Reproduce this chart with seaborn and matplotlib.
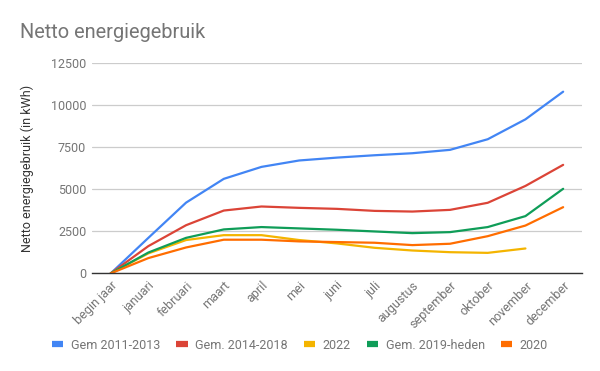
import matplotlib
matplotlib.use("Agg")
import matplotlib.pyplot as plt
import seaborn as sns
import pandas as pd
import numpy as np
from matplotlib.lines import Line2D

maanden = ["begin jaar", "januari", "februari", "maart", "april", "mei", "juni",
           "juli", "augustus", "september", "oktober", "november", "december"]
series_names = ["Gem 2011-2013", "Gem. 2014-2018", "2022", "Gem. 2019-heden", "2020"]
gem_2011_2013 = [0, 2110, 4200, 5610, 6320, 6700, 6870, 7010, 7130, 7330, 7960, 9140, 10780]
gem_2014_2018 = [0, 1620, 2860, 3730, 3970, 3890, 3830, 3710, 3670, 3770, 4190, 5190, 6440]
jaar_2022 = [0, 1190, 1980, 2270, 2270, 1980, 1780, 1520, 1360, 1260, 1220, 1480, np.nan]
gem_2019_heden = [0, 1240, 2110, 2610, 2750, 2670, 2590, 2490, 2390, 2450, 2750, 3400, 5020]
jaar_2020 = [0, 910, 1540, 2000, 2000, 1900, 1860, 1820, 1680, 1760, 2210, 2840, 3930]
colors = ["#4285F4", "#DB4437", "#F4B400", "#0F9D58", "#FF6D00"]

values = [gem_2011_2013, gem_2014_2018, jaar_2022, gem_2019_heden, jaar_2020]
rows = []
for name, vals in zip(series_names, values):
    for m, v in zip(maanden, vals):
        rows.append({"maand": m, "reeks": name, "kWh": v})
df = pd.DataFrame(rows)

sns.set_theme(style="white")
plt.rcParams["font.family"] = ["Roboto", "DejaVu Sans"]

fig = plt.figure(figsize=(6, 3.71), dpi=100)
ax = fig.add_axes([0.153, 0.263, 0.817, 0.568])

sns.lineplot(data=df, x="maand", y="kWh", hue="reeks", hue_order=series_names,
             palette=colors, linewidth=1.6, sort=False, ax=ax, legend=False)

ax.set_ylim(0, 12500)
ax.set_xlim(-0.5, 12.5)
ax.set_yticks([0, 2500, 5000, 7500, 10000, 12500])
ax.set_yticklabels(["0", "2500", "5000", "7500", "10000", "12500"])
ax.yaxis.grid(True, color="#cccccc", linewidth=0.9)
ax.xaxis.grid(False)
for s in ["top", "right", "left"]:
    ax.spines[s].set_visible(False)
ax.spines["bottom"].set_color("#333333")
ax.spines["bottom"].set_linewidth(1.0)
ax.tick_params(axis="y", length=0, pad=4, labelsize=9, labelcolor="#757575")
ax.tick_params(axis="x", length=0, pad=4, labelsize=9, labelcolor="#757575")
ax.set_xticks(range(len(maanden)))
ax.set_xticklabels(maanden, rotation=45, ha="right", rotation_mode="anchor")
ax.set_xlabel("")
ax.set_ylabel("Netto energiegebruik (in kWh)", fontsize=9, color="#333333")
ax.yaxis.set_label_coords(-0.118, 0.5)
ax.set_axisbelow(True)

fig.text(0.033, 0.898, "Netto energiegebruik", fontsize=14.4, color="#757575")

handles = [Line2D([0], [0], color=c, linewidth=4.5, solid_capstyle="butt") for c in colors]
fig.legend(handles, series_names, loc="center", bbox_to_anchor=(0.5, 0.07), ncol=5,
           frameon=False, fontsize=9, labelcolor="#757575", handlelength=0.9,
           handletextpad=0.6, columnspacing=1.3)

fig.savefig("out.png", dpi=100)
